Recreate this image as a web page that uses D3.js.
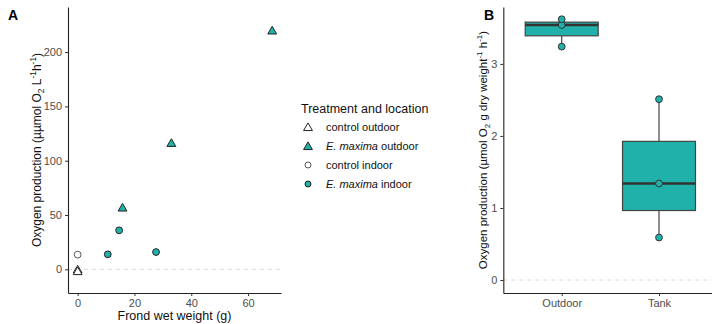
<!DOCTYPE html>
<html lang="en">
<head>
  <meta charset="utf-8" />
  <title>Oxygen production</title>
  <script src="https://d3js.org/d3.v7.min.js"></script>
  <style>
    * { margin: 0; padding: 0; box-sizing: border-box; }
    html, body { background: #ffffff; width: 712px; height: 324px; overflow: hidden; }
    svg { display: block; font-family: "Liberation Sans", Arial, sans-serif; }
    .tick text { fill: #4d4d4d; font-size: 11px; }
    .tick line { stroke: #333; }
    .domain { stroke: #222; stroke-width: 1.1px; }
    .zero { stroke: #d9d9d9; stroke-dasharray: 4 4; stroke-width: 1px; }
  </style>
</head>
<body>
<svg id="chart" width="712" height="324"></svg>
<script>
  // panel A data (frond wet weight g, oxygen production)
  const controlOutdoorX = [0, 0];
  const controlOutdoorY = [-1, -2.5];
  const maximaOutdoorX = [15.8, 33, 68.5];
  const maximaOutdoorY = [56, 115.5, 219];
  const controlIndoorX = [0];
  const controlIndoorY = [13.5];
  const maximaIndoorX = [10.6, 14.6, 27.6];
  const maximaIndoorY = [13.8, 35.9, 15.9];

  const xTicksA = [0, 20, 40, 60];
  const yTicksA = [0, 50, 100, 150, 200];

  // panel B data (per dry weight)
  const locations = ["Outdoor", "Tank"];
  const outdoorValues = [3.24, 3.54, 3.62];
  const tankValues = [0.59, 1.34, 2.51];
  const yTicksB = [0, 1, 2, 3];

  const legendLabels = [
    { parts: [["control outdoor", false]], shape: "triangle", fill: "#fff", stroke: "#222" },
    { parts: [["E. maxima", true], [" outdoor", false]], shape: "triangle", fill: "#20b2aa", stroke: "#222" },
    { parts: [["control indoor", false]], shape: "circle", fill: "#fff", stroke: "#555" },
    { parts: [["E. maxima", true], [" indoor", false]], shape: "circle", fill: "#20b2aa", stroke: "#222" }
  ];

  const teal = "#20b2aa";
  const svg = d3.select("#chart");

  // ---------- Panel A ----------
  const xA = d3.scaleLinear().domain([-3.4, 71.6]).range([68, 281]);
  const yA = d3.scaleLinear().domain([-21.8, 241.5]).range([293, 7]);

  const gA = svg.append("g");

  gA.append("line").attr("class", "zero")
    .attr("x1", xA.range()[0]).attr("x2", xA.range()[1])
    .attr("y1", yA(0)).attr("y2", yA(0));

  gA.append("g").attr("transform", `translate(0,${yA.range()[0]})`)
    .call(d3.axisBottom(xA).tickValues(xTicksA).tickSize(3).tickPadding(3).tickSizeOuter(0));
  gA.append("g").attr("transform", `translate(${xA.range()[0]},0)`)
    .call(d3.axisLeft(yA).tickValues(yTicksA).tickSize(3).tickPadding(3).tickSizeOuter(0));

  const tri = d3.symbol().type(d3.symbolTriangle).size(34);

  function drawCircles(xs, ys, fill, stroke) {
    gA.append("g").selectAll("circle").data(xs).join("circle")
      .attr("cx", (d) => xA(d))
      .attr("cy", (d, i) => yA(ys[i]))
      .attr("r", 3.4)
      .attr("fill", fill).attr("stroke", stroke).attr("stroke-width", 1);
  }
  function drawTriangles(xs, ys, fill, stroke) {
    gA.append("g").selectAll("path").data(xs).join("path")
      .attr("d", tri)
      .attr("transform", (d, i) => `translate(${xA(d)},${yA(ys[i])})`)
      .attr("fill", fill).attr("stroke", stroke).attr("stroke-width", 1);
  }

  drawCircles(controlIndoorX, controlIndoorY, "#fff", "#555");
  drawCircles(maximaIndoorX, maximaIndoorY, teal, "#222");
  drawTriangles(controlOutdoorX, controlOutdoorY, "#fff", "#222");
  drawTriangles(maximaOutdoorX, maximaOutdoorY, teal, "#222");

  gA.append("text")
    .attr("x", (xA.range()[0] + xA.range()[1]) / 2).attr("y", 320)
    .attr("text-anchor", "middle").attr("font-size", 12.5).attr("fill", "#111")
    .text("Frond wet weight (g)");

  function yTitle(g, x, size, parts) {
    const t = g.append("text")
      .attr("transform", `translate(${x},150) rotate(-90)`)
      .attr("text-anchor", "middle").attr("font-size", size).attr("fill", "#111");
    parts.forEach(([s, kind]) => {
      const sp = t.append("tspan").text(s);
      if (kind === "sub") sp.attr("font-size", size * 0.7).attr("baseline-shift", "-3");
      if (kind === "sup") sp.attr("font-size", size * 0.7).attr("baseline-shift", "5");
    });
  }

  yTitle(gA, 41, 12, [
    ["Oxygen production (\u00b5\u00b5mol O", null], ["2", "sub"], [" L", null],
    ["-1", "sup"], ["h", null], ["-1", "sup"], [")", null]
  ]);

  svg.append("text").attr("x", 8).attr("y", 20)
    .attr("font-size", 14).attr("font-weight", "bold").text("A");

  // legend
  const lg = svg.append("g").attr("transform", "translate(301,0)");
  lg.append("text").attr("x", 0).attr("y", 113)
    .attr("font-size", 12.5).attr("fill", "#111").text("Treatment and location");
  legendLabels.forEach((item, i) => {
    const cy = 127 + i * 19;
    if (item.shape === "triangle") {
      lg.append("path").attr("d", tri)
        .attr("transform", `translate(7,${cy + 1})`)
        .attr("fill", item.fill).attr("stroke", item.stroke).attr("stroke-width", 1);
    } else {
      lg.append("circle").attr("cx", 7).attr("cy", cy).attr("r", 3)
        .attr("fill", item.fill).attr("stroke", item.stroke).attr("stroke-width", 1);
    }
    const t = lg.append("text").attr("x", 25).attr("y", cy + 4)
      .attr("font-size", 11).attr("fill", "#111");
    item.parts.forEach(([s, it]) => {
      t.append("tspan").attr("font-style", it ? "italic" : "normal").text(s);
    });
  });

  // ---------- Panel B ----------
  const valuesB = [outdoorValues, tankValues];
  // discrete scale with 0.6 band expansion like ggplot; right side runs past edge
  const xB = d3.scalePoint().domain(locations).range([561.7, 659]);
  const step = xB.step();
  const yB = d3.scaleLinear().domain([-0.18, 3.79]).range([293, 7]);
  const left = xB(locations[0]) - 0.6 * step;
  const right = xB(locations[1]) + 0.6 * step;

  const gB = svg.append("g");
  gB.append("line").attr("class", "zero")
    .attr("x1", left).attr("x2", right)
    .attr("y1", yB(0)).attr("y2", yB(0));

  const xAxisB = d3.scaleLinear().domain([0, 1]).range([left, right]);
  gB.append("g").attr("transform", `translate(0,${yB.range()[0]})`)
    .call(d3.axisBottom(xAxisB).tickValues([]).tickSizeOuter(0));
  gB.append("g").attr("transform", `translate(0,${yB.range()[0]})`)
    .call(d3.axisBottom(xB).tickSize(3).tickPadding(3).tickSizeOuter(0))
    .select(".domain").remove();
  gB.append("g").attr("transform", `translate(${left},0)`)
    .call(d3.axisLeft(yB).tickValues(yTicksB).tickFormat(d3.format("d"))
      .tickSize(3).tickPadding(3).tickSizeOuter(0));

  const boxW = 0.75 * step;
  locations.forEach((loc, i) => {
    const v = valuesB[i].slice().sort(d3.ascending);
    const q1 = d3.quantile(v, 0.25), med = d3.quantile(v, 0.5), q3 = d3.quantile(v, 0.75);
    const iqr = q3 - q1;
    const lo = d3.min(v.filter((d) => d >= q1 - 1.5 * iqr));
    const hi = d3.max(v.filter((d) => d <= q3 + 1.5 * iqr));
    const cx = xB(loc);
    const g = gB.append("g");
    g.append("line").attr("x1", cx).attr("x2", cx).attr("y1", yB(hi)).attr("y2", yB(q3))
      .attr("stroke", "#444").attr("stroke-width", 1.2);
    g.append("line").attr("x1", cx).attr("x2", cx).attr("y1", yB(q1)).attr("y2", yB(lo))
      .attr("stroke", "#444").attr("stroke-width", 1.2);
    g.append("rect").attr("x", cx - boxW / 2).attr("width", boxW)
      .attr("y", yB(q3)).attr("height", yB(q1) - yB(q3))
      .attr("fill", teal).attr("stroke", "#444").attr("stroke-width", 1.2);
    g.append("line").attr("x1", cx - boxW / 2).attr("x2", cx + boxW / 2)
      .attr("y1", yB(med)).attr("y2", yB(med))
      .attr("stroke", "#333").attr("stroke-width", 2.4);
    g.selectAll("circle").data(v).join("circle")
      .attr("cx", cx).attr("cy", (d) => yB(d)).attr("r", 3.4)
      .attr("fill", teal).attr("stroke", "#333").attr("stroke-width", 1);
  });

  yTitle(gB, 487, 11.5, [
    ["Oxygen production (\u00b5mol O", null], ["2", "sub"], [" g dry weight", null],
    ["-1", "sup"], [" h", null], ["-1", "sup"], [")", null]
  ]);

  svg.append("text").attr("x", 484).attr("y", 20)
    .attr("font-size", 14).attr("font-weight", "bold").text("B");
</script>
</body>
</html>
